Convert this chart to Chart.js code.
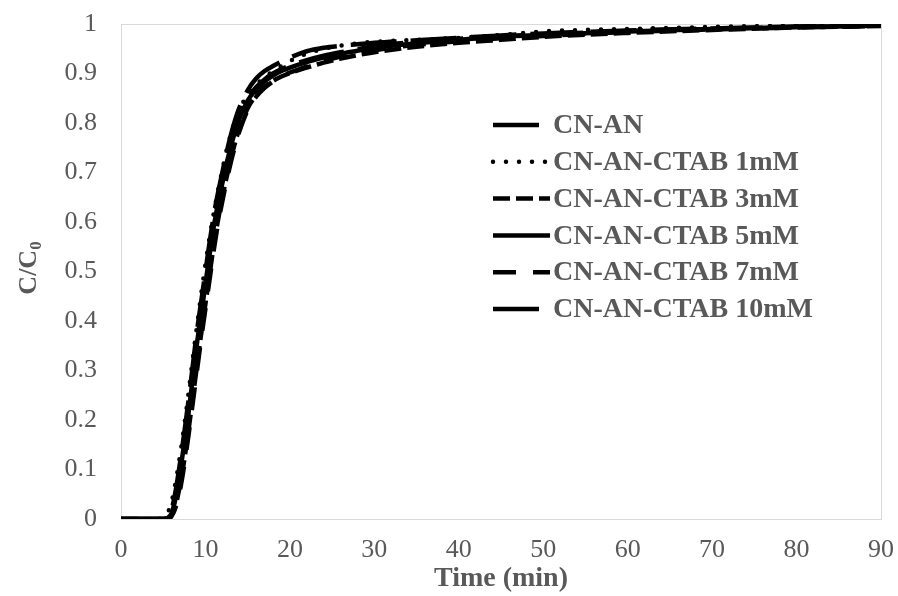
<!DOCTYPE html>
<html>
<head>
<meta charset="utf-8">
<script src="https://cdn.jsdelivr.net/npm/chart.js@4.4.1/dist/chart.umd.min.js"></script>
<style>
  html, body { margin: 0; padding: 0; background: #ffffff; }
  #wrap { width: 898px; height: 596px; }
</style>
</head>
<body>
<div id="wrap"><canvas id="chart" width="898" height="596"></canvas></div>
<script>
// Sampling times (min), shared by every breakthrough curve
const timeMin = [0, 2, 4, 5, 5.5, 6, 6.5, 7, 7.5, 8, 8.5, 9, 9.5, 10, 10.5, 11, 11.5, 12, 12.5, 13, 13.5, 14,
                 15, 16, 17, 18, 19, 20, 22, 24, 26, 28, 30, 35, 40, 45, 50, 60, 70, 80, 90];

// C/C0 for each adsorbent
const cnAn = [0, 0, 0, 0, 0.003, 0.015, 0.05, 0.1, 0.16, 0.22, 0.29, 0.36, 0.42, 0.48, 0.54, 0.6, 0.645, 0.685, 0.725, 0.76, 0.79, 0.815,
              0.85, 0.872, 0.888, 0.9, 0.909, 0.916, 0.927, 0.936, 0.943, 0.949, 0.955, 0.964, 0.97, 0.975, 0.979, 0.986, 0.99, 0.994, 0.997];
const ctab1 = [0, 0, 0, 0.003, 0.012, 0.035, 0.078, 0.13, 0.19, 0.255, 0.325, 0.39, 0.455, 0.515, 0.57, 0.62, 0.665, 0.705, 0.745, 0.777, 0.803, 0.826,
               0.857, 0.877, 0.892, 0.905, 0.915, 0.925, 0.94, 0.95, 0.956, 0.961, 0.964, 0.968, 0.972, 0.978, 0.985, 0.99, 0.994, 0.997, 0.999];
const ctab3 = [0, 0, 0, 0, 0, 0.008, 0.03, 0.07, 0.12, 0.18, 0.245, 0.31, 0.375, 0.435, 0.495, 0.555, 0.605, 0.65, 0.69, 0.727, 0.76, 0.788,
               0.83, 0.856, 0.873, 0.885, 0.894, 0.901, 0.912, 0.922, 0.93, 0.937, 0.943, 0.954, 0.962, 0.968, 0.974, 0.982, 0.988, 0.993, 0.996];
const ctab5 = [0, 0, 0, 0, 0.002, 0.012, 0.045, 0.095, 0.155, 0.215, 0.285, 0.355, 0.415, 0.475, 0.535, 0.592, 0.638, 0.678, 0.718, 0.752, 0.782, 0.808,
               0.845, 0.868, 0.884, 0.896, 0.905, 0.912, 0.923, 0.932, 0.94, 0.946, 0.952, 0.961, 0.968, 0.974, 0.978, 0.985, 0.99, 0.994, 0.997];
const ctab7 = [0, 0, 0, 0, 0, 0.006, 0.025, 0.06, 0.11, 0.17, 0.235, 0.3, 0.365, 0.425, 0.485, 0.545, 0.598, 0.642, 0.683, 0.72, 0.753, 0.782,
               0.826, 0.853, 0.871, 0.884, 0.894, 0.902, 0.914, 0.925, 0.934, 0.941, 0.947, 0.958, 0.965, 0.971, 0.976, 0.984, 0.989, 0.993, 0.996];
const ctab10 = [0, 0, 0, 0, 0.004, 0.02, 0.06, 0.115, 0.175, 0.24, 0.31, 0.38, 0.44, 0.5, 0.56, 0.615, 0.66, 0.7, 0.74, 0.775, 0.805, 0.83,
                0.866, 0.89, 0.905, 0.915, 0.924, 0.932, 0.945, 0.952, 0.956, 0.959, 0.962, 0.967, 0.972, 0.977, 0.981, 0.987, 0.991, 0.995, 0.998];

const seriesNames = ['CN-AN', 'CN-AN-CTAB 1mM', 'CN-AN-CTAB 3mM', 'CN-AN-CTAB 5mM', 'CN-AN-CTAB 7mM', 'CN-AN-CTAB 10mM'];

// Axis tick labels
const xTickValues = [0, 10, 20, 30, 40, 50, 60, 70, 80, 90];
const yTickLabels = ['0', '0.1', '0.2', '0.3', '0.4', '0.5', '0.6', '0.7', '0.8', '0.9', '1'];

const TEXT_GREY = '#595959';
const SERIF = "'Liberation Serif', 'Times New Roman', serif";

function points(ys) {
  return timeMin.map((t, i) => ({ x: t, y: ys[i] }));
}

const lineStyles = [
  { borderDash: [46, 14], cap: 'butt' },   // long dash
  { borderDash: [0, 13], cap: 'round' },   // round dots
  { borderDash: [17, 6], cap: 'butt' },    // dash
  { borderDash: [], cap: 'butt' },         // solid
  { borderDash: [23, 17], cap: 'butt' },   // spaced dash
  { borderDash: [46, 14], cap: 'butt' }    // long dash
];

const allSeries = [cnAn, ctab1, ctab3, ctab5, ctab7, ctab10];

const datasets = allSeries.map((ys, i) => ({
  label: seriesNames[i],
  data: points(ys),
  borderColor: '#000000',
  backgroundColor: '#000000',
  borderWidth: 4.5,
  borderDash: lineStyles[i].borderDash,
  borderCapStyle: lineStyles[i].cap,
  pointRadius: 0,
  fill: false,
  cubicInterpolationMode: 'monotone'
}));

// Plot frame, in-plot legend and the rotated C/C0 title
const decorations = {
  id: 'decorations',
  beforeDatasetsDraw(chart) {
    const { ctx, chartArea: a } = chart;
    ctx.save();
    ctx.strokeStyle = '#d9d9d9';
    ctx.lineWidth = 1;
    ctx.strokeRect(Math.round(a.left) + 0.5, Math.round(a.top) + 0.5,
                   Math.round(a.right - a.left), Math.round(a.bottom - a.top));
    ctx.restore();
  },
  afterDraw(chart) {
    const { ctx } = chart;
    // legend
    const x0 = 493, x1 = 550, textX = 553, top = 125, step = 36.8;
    chart.data.datasets.forEach((ds, i) => {
      const y = top + i * step;
      ctx.save();
      ctx.strokeStyle = ds.borderColor;
      ctx.lineWidth = ds.borderWidth;
      ctx.lineCap = ds.borderCapStyle;
      ctx.setLineDash(ds.borderDash);
      ctx.beginPath();
      ctx.moveTo(x0, y);
      ctx.lineTo(x1, y);
      ctx.stroke();
      ctx.restore();
      ctx.save();
      ctx.fillStyle = TEXT_GREY;
      ctx.font = 'bold 28px ' + SERIF;
      ctx.textBaseline = 'middle';
      ctx.textAlign = 'left';
      ctx.fillText(ds.label, textX, y + 1);
      ctx.restore();
    });
    // y-axis title with subscript
    ctx.save();
    ctx.translate(27, 268);
    ctx.rotate(-Math.PI / 2);
    ctx.fillStyle = TEXT_GREY;
    const mainFont = 'bold 26px ' + SERIF;
    const subFont = 'bold 17px ' + SERIF;
    ctx.font = mainFont;
    const wMain = ctx.measureText('C/C').width;
    ctx.font = subFont;
    const wSub = ctx.measureText('0').width;
    const start = -(wMain + wSub) / 2;
    ctx.textBaseline = 'alphabetic';
    ctx.textAlign = 'left';
    ctx.font = mainFont;
    ctx.fillText('C/C', start, 9);
    ctx.font = subFont;
    ctx.fillText('0', start + wMain, 14);
    ctx.restore();
  }
};

new Chart(document.getElementById('chart'), {
  type: 'line',
  data: { datasets },
  options: {
    responsive: false,
    devicePixelRatio: 1,
    animation: false,
    layout: { padding: { left: 0, top: 24, right: 17, bottom: 0 } },
    plugins: { legend: { display: false }, tooltip: { enabled: false } },
    scales: {
      x: {
        type: 'linear',
        min: 0,
        max: 90,
        grid: { display: false, drawTicks: false },
        border: { display: false },
        afterBuildTicks(scale) { scale.ticks = xTickValues.map(v => ({ value: v })); },
        afterFit(scale) {
          scale.height = 77;
          scale.paddingLeft = 0;
          scale.paddingRight = 0;
        },
        ticks: {
          color: TEXT_GREY,
          padding: 16,
          maxRotation: 0,
          font: { family: SERIF, size: 26 },
          callback: v => String(v)
        },
        title: {
          display: true,
          text: 'Time (min)',
          color: TEXT_GREY,
          padding: { top: 0, bottom: 0 },
          font: { family: SERIF, size: 28, weight: 'bold', lineHeight: 1.2 }
        }
      },
      y: {
        type: 'linear',
        min: 0,
        max: 1,
        grid: { display: false, drawTicks: false },
        border: { display: false },
        afterBuildTicks(scale) { scale.ticks = yTickLabels.map(s => ({ value: parseFloat(s) })); },
        afterFit(scale) {
          scale.width = 121;
          scale.paddingTop = 0;
          scale.paddingBottom = 0;
        },
        ticks: {
          color: TEXT_GREY,
          padding: 24,
          font: { family: SERIF, size: 26 },
          callback: (v, i) => yTickLabels[i]
        }
      }
    }
  },
  plugins: [decorations]
});
</script>
</body>
</html>
